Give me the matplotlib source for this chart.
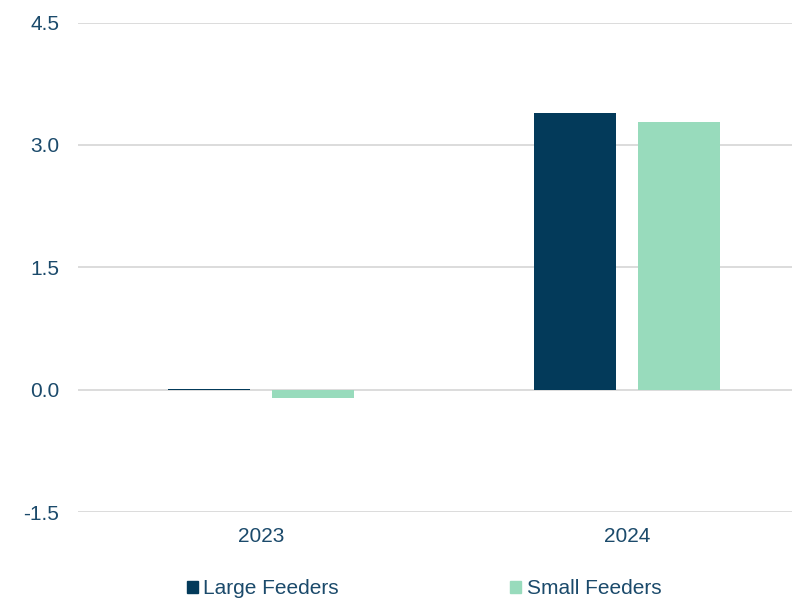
import matplotlib
matplotlib.use("Agg")
import matplotlib.pyplot as plt
from matplotlib.patches import Patch
import numpy as np

categories = ["2023", "2024"]
large_feeders = [0.01, 3.39]
small_feeders = [-0.10, 3.28]
series_names = ["Large Feeders", "Small Feeders"]
y_ticks = [-1.5, 0.0, 1.5, 3.0, 4.5]

c_large = "#033a5a"
c_small = "#98dbbc"
txt = "#1b4a6b"

plt.rcParams['font.family'] = ['Liberation Sans', 'DejaVu Sans']

fig = plt.figure(figsize=(7.92, 5.98), dpi=100)
W, H = 792, 598
left, right = 78, 810
bottom, top = 512, 22.5
ax = fig.add_axes([left / W, (H - bottom) / H, (right - left) / W, (bottom - top) / H])

x = np.arange(len(categories))
bw = 0.224
off = 0.143
ax.bar(x - off, large_feeders, bw, color=c_large, zorder=3)
ax.bar(x + off, small_feeders, bw, color=c_small, zorder=3)

ax.set_xlim(-0.5, 1.5)
ax.set_ylim(-1.5, 4.5)
ax.set_yticks(y_ticks)
ax.set_yticklabels([f"{v:.1f}" for v in y_ticks])
ax.set_xticks(x)
ax.set_xticklabels(categories)
ax.yaxis.grid(True, color="#d9d9d9", linewidth=1.3, zorder=0)
ax.set_axisbelow(True)
for s in ax.spines.values():
    s.set_visible(False)
ax.tick_params(axis='both', length=0, labelsize=15, colors=txt)
ax.tick_params(axis='y', pad=13.5)
ax.tick_params(axis='x', pad=11)

handles = [Patch(color=c_large), Patch(color=c_small)]
leg = fig.legend(handles, series_names, loc='center', bbox_to_anchor=(424 / W, (H - 589) / H),
                 ncol=2, frameon=False, fontsize=15, handlelength=0.55, handleheight=0.55,
                 handletextpad=0.25, columnspacing=8.2, labelcolor=txt)

fig.savefig("out.png", dpi=100)
